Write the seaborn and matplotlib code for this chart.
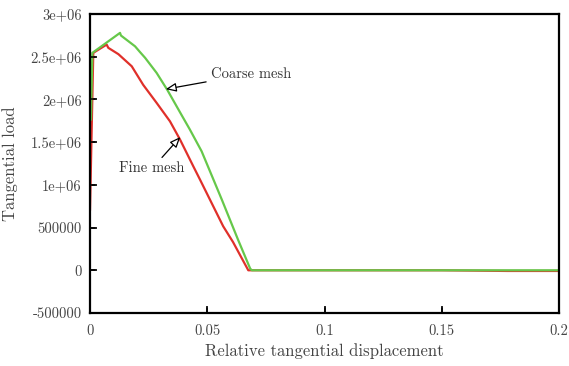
import matplotlib
matplotlib.use("Agg")
import matplotlib.pyplot as plt
import seaborn as sns
import pandas as pd

# Data
coarse_x = [0.0004, 0.0010, 0.0128, 0.0132, 0.0192, 0.0213, 0.0235, 0.0284, 0.0330, 0.0391,
            0.0426, 0.0476, 0.0562, 0.0631, 0.0683, 0.0690, 0.10, 0.15, 0.20]
coarse_y = [1.76e6, 2.545e6, 2.779e6, 2.748e6, 2.622e6, 2.555e6, 2.487e6, 2.311e6, 2.110e6, 1.815e6,
            1.647e6, 1.393e6, 0.828e6, 0.36e6, 0.02e6, 0.0, 0.0, 0.0, 0.0]
fine_x = [0.0000, 0.0014, 0.0071, 0.0078, 0.0121, 0.0178, 0.0227, 0.0284, 0.0341, 0.0384,
          0.0440, 0.0469, 0.0568, 0.0610, 0.0675, 0.10, 0.15, 0.178, 0.20]
fine_y = [0.70e6, 2.545e6, 2.642e6, 2.604e6, 2.530e6, 2.388e6, 2.170e6, 1.960e6, 1.744e6, 1.530e6,
          1.220e6, 1.062e6, 0.515e6, 0.33e6, 0.0, 0.0, 0.0, -0.008e6, -0.008e6]
x_ticks = [0, 0.05, 0.1, 0.15, 0.2]
x_tick_labels = ["0", "0.05", "0.1", "0.15", "0.2"]
y_ticks = [-5e5, 0, 5e5, 1e6, 1.5e6, 2e6, 2.5e6, 3e6]
y_tick_labels = ["-500000", "0", "500000", "1e+06", "1.5e+06", "2e+06", "2.5e+06", "3e+06"]

sns.set_style("ticks")
plt.rcParams["font.family"] = ["cmr10", "DejaVu Serif"]
plt.rcParams["axes.unicode_minus"] = False
plt.rcParams["mathtext.fontset"] = "cm"

df = pd.concat([
    pd.DataFrame({"x": fine_x, "y": fine_y, "mesh": "Fine"}),
    pd.DataFrame({"x": coarse_x, "y": coarse_y, "mesh": "Coarse"}),
])

fig = plt.figure(figsize=(5.69, 3.66), dpi=100)
ax = fig.add_axes([90/569, 1 - 313/366, 469/569, 299/366])
sns.lineplot(data=df, x="x", y="y", hue="mesh", sort=False, estimator=None,
             palette={"Fine": "#e0302a", "Coarse": "#66c84a"}, linewidth=1.6,
             legend=False, ax=ax)

ax.set_xlim(0, 0.2)
ax.set_ylim(-5e5, 3e6)
ax.set_xticks(x_ticks)
ax.set_xticklabels(x_tick_labels)
ax.set_yticks(y_ticks)
ax.set_yticklabels(y_tick_labels)
for s in ax.spines.values():
    s.set_linewidth(1.6)
    s.set_color("black")
ax.tick_params(axis="both", which="major", direction="in", length=5, width=1.2,
               labelsize=10.5, color="black", labelcolor="#444444", pad=6,
               bottom=True, left=True, top=False, right=False)
ax.tick_params(axis="x", pad=8)

# explicit inward tick marks at the tick positions (axis-fraction length)
for xv in x_ticks:
    ax.plot([xv, xv], [0, 0.017], transform=ax.get_xaxis_transform(),
            color="black", lw=1.1, clip_on=False, zorder=5)
for yv in y_ticks:
    ax.plot([0, 0.011], [yv, yv], transform=ax.get_yaxis_transform(),
            color="black", lw=1.1, clip_on=False, zorder=5)

ax.set_xlabel("Relative tangential displacement", fontsize=12, color="#444444", labelpad=4)
ax.set_ylabel("Tangential load", fontsize=12, color="#444444", labelpad=9)

arrowprops = dict(arrowstyle="-|>,head_length=0.6,head_width=0.25", facecolor="white",
                  edgecolor="black", linewidth=0.9, shrinkA=1, shrinkB=0)
ax.annotate("Coarse mesh", xy=(0.0323, 2.12e6), xytext=(0.0515, 2.30e6),
            fontsize=10.5, color="#333333", va="center", ha="left", arrowprops=arrowprops)
ax.annotate("Fine mesh", xy=(0.0385, 1.56e6), xytext=(0.0125, 1.19e6),
            fontsize=10.5, color="#333333", va="center", ha="left", arrowprops=arrowprops)

fig.savefig("out.png", dpi=100)
